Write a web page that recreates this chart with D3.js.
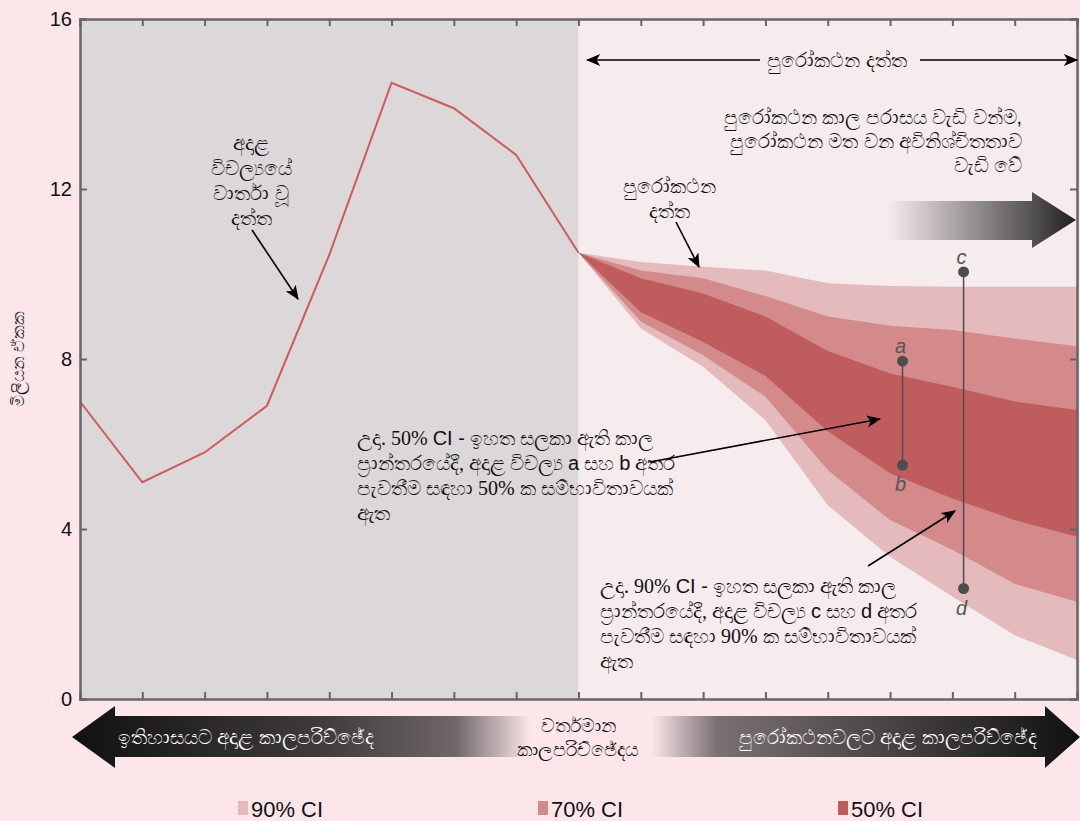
<!DOCTYPE html>
<html>
<head>
<meta charset="utf-8">
<script src="https://cdn.jsdelivr.net/npm/d3@7"></script>
<style>
  body { margin: 0; background: #fce6e9; }
  svg { display: block; font-family: "Liberation Sans", Arial, sans-serif; }
</style>
</head>
<body>
<div id="chart"></div>
<script>
// historical series (period index 0..8)
const histX = [0, 1, 2, 3, 4, 5, 6, 7, 8];
const histY = [7.0, 5.1, 5.8, 6.9, 10.45, 14.5, 13.9, 12.8, 10.5];

// forecast fan (period index 8..16)
const fcX = [8, 9, 10, 11, 12, 13, 14, 15, 16];
const upper90 = [10.5, 10.28, 10.17, 10.08, 9.78, 9.72, 9.7, 9.7, 9.7];
const upper70 = [10.5, 10.08, 9.9, 9.48, 9.0, 8.78, 8.68, 8.48, 8.3];
const upper50 = [10.5, 9.9, 9.54, 9.0, 8.19, 7.66, 7.35, 7.0, 6.8];
const lower50 = [10.5, 9.1, 8.4, 7.6, 6.3, 5.31, 4.72, 4.21, 3.82];
const lower70 = [10.5, 8.88, 8.09, 7.11, 5.39, 4.21, 3.51, 2.71, 2.29];
const lower90 = [10.5, 8.72, 7.82, 6.56, 4.56, 3.35, 2.41, 1.5, 0.92];

// example interval markers
const markerNames = ['a', 'b', 'c', 'd'];
const markerX = [13.2, 13.2, 14.18, 14.18];
const markerY = [7.95, 5.5, 10.05, 2.6];

const yTicks = [0, 4, 8, 12, 16];
const legendLabels = ['90% CI', '70% CI', '50% CI'];
const legendColors = ['#e4babc', '#d4898b', '#bf5d5e'];

const W = 1080, H = 821;
const svg = d3.select('#chart').append('svg').attr('width', W).attr('height', H);

const x = d3.scaleLinear().domain([0, 16]).range([80, 1077]);
const y = d3.scaleLinear().domain([0, 16]).range([699, 19]);

// arrow marker
const defs = svg.append('defs');
defs.append('marker')
  .attr('id', 'head')
  .attr('viewBox', '0 0 12 10')
  .attr('refX', 11).attr('refY', 5)
  .attr('markerWidth', 15).attr('markerHeight', 12)
  .attr('markerUnits', 'userSpaceOnUse')
  .attr('orient', 'auto')
  .append('path').attr('d', 'M0,0 L12,5 L0,10 L3,5 z').attr('fill', '#000');

const gTop = defs.append('linearGradient').attr('id', 'gTop');
gTop.append('stop').attr('offset', '0%').attr('stop-color', '#222').attr('stop-opacity', 0);
gTop.append('stop').attr('offset', '100%').attr('stop-color', '#222').attr('stop-opacity', 1);

const gBot = defs.append('linearGradient').attr('id', 'gBot')
  .attr('gradientUnits', 'userSpaceOnUse').attr('x1', 72).attr('x2', 1080);
[[0, 1], [0.25, 0.8], [0.38, 0.6], [0.455, 0], [0.575, 0], [0.64, 0.55], [0.8, 0.75], [1, 1]]
  .forEach(([o, a]) => gBot.append('stop').attr('offset', o).attr('stop-color', '#111').attr('stop-opacity', a));

// plot backgrounds
svg.append('rect').attr('x', x(0)).attr('y', y(16)).attr('width', x(8) - x(0)).attr('height', y(0) - y(16)).attr('fill', '#dcd7d9');
svg.append('rect').attr('x', x(8)).attr('y', y(16)).attr('width', x(16) - x(8)).attr('height', y(0) - y(16)).attr('fill', '#f6ecee');

// fan bands
const area = (lo, hi) => d3.area().x((d, i) => x(fcX[i])).y0((d, i) => y(lo[i])).y1((d, i) => y(hi[i]))(fcX);
svg.append('path').attr('d', area(lower90, upper90)).attr('fill', legendColors[0]);
svg.append('path').attr('d', area(lower70, upper70)).attr('fill', legendColors[1]);
svg.append('path').attr('d', area(lower50, upper50)).attr('fill', legendColors[2]);

// historical line
svg.append('path')
  .attr('d', d3.line().x((d, i) => x(histX[i])).y((d, i) => y(histY[i]))(histX))
  .attr('fill', 'none').attr('stroke', '#cf5a5a').attr('stroke-width', 2);

// axes
const axisColor = '#666';
const frame = svg.append('g');
frame.append('g').attr('transform', `translate(0,${y(0)})`)
  .call(d3.axisTop(x).tickValues(d3.range(1, 16)).tickSize(7).tickFormat(''));
frame.append('g').attr('transform', `translate(0,${y(16)})`)
  .call(d3.axisBottom(x).tickValues(d3.range(1, 16)).tickSize(7).tickFormat(''));
frame.append('g').attr('transform', `translate(${x(0)},0)`)
  .call(d3.axisRight(y).tickValues(yTicks).tickSize(7).tickFormat(''));
frame.append('g').attr('transform', `translate(${x(16)},0)`)
  .call(d3.axisLeft(y).tickValues(yTicks).tickSize(7).tickFormat(''));
frame.selectAll('path.domain').attr('stroke', axisColor).attr('stroke-width', 2.5);
frame.selectAll('.tick line').attr('stroke', axisColor).attr('stroke-width', 2);

svg.append('g').selectAll('text').data(yTicks).join('text')
  .attr('x', 72).attr('y', d => y(d) + 7)
  .attr('text-anchor', 'end').attr('font-size', 20).attr('fill', '#111')
  .text(d => d);

svg.append('text')
  .attr('transform', `translate(24,${y(8)}) rotate(-90)`)
  .attr('text-anchor', 'middle').attr('font-size', 17).attr('fill', '#222')
  .text('මිලියන ඒකක');

// interval markers
const mk = svg.append('g').attr('fill', '#4d4d4d').attr('stroke', '#4d4d4d');
[[0, 1], [2, 3]].forEach(([i, j]) => {
  mk.append('line').attr('x1', x(markerX[i])).attr('x2', x(markerX[j]))
    .attr('y1', y(markerY[i])).attr('y2', y(markerY[j])).attr('stroke-width', 1.5);
});
mk.selectAll('circle').data(markerNames).join('circle')
  .attr('cx', (d, i) => x(markerX[i])).attr('cy', (d, i) => y(markerY[i])).attr('r', 5.5).attr('stroke', 'none');
mk.selectAll('text').data(markerNames).join('text')
  .attr('x', (d, i) => x(markerX[i]) - 2)
  .attr('y', (d, i) => (i % 2 === 0 ? y(markerY[i]) - 8 : y(markerY[i]) + 26))
  .attr('text-anchor', 'middle').attr('font-size', 20).attr('font-style', 'italic')
  .attr('stroke', 'none').attr('fill', '#555')
  .text(d => d);

// annotations
function lines(xp, yp, arr, anchor, size, lh, fill) {
  const t = svg.append('text').attr('x', xp).attr('y', yp).attr('text-anchor', anchor)
    .attr('font-size', size).attr('fill', fill || '#111');
  arr.forEach((s, k) => t.append('tspan').attr('x', xp).attr('dy', k ? lh : 0).text(s));
  return t;
}
function arrow(x1, y1, x2, y2) {
  svg.append('line').attr('x1', x1).attr('y1', y1).attr('x2', x2).attr('y2', y2)
    .attr('stroke', '#000').attr('stroke-width', 1.6).attr('marker-end', 'url(#head)');
}

lines(251, 150, ['අදාළ', 'විචල්‍යයේ', 'වාර්තා වූ', 'දත්ත'], 'middle', 20, 25);
arrow(252, 230, 298, 299);

arrow(760, 60, 587, 60);
arrow(920, 60, 1077, 60);
svg.append('text').attr('x', 837).attr('y', 67).attr('text-anchor', 'middle').attr('font-size', 20).attr('fill', '#111').text('පුරෝකථන දත්ත');

lines(1022, 124, ['පුරෝකථන කාල පරාසය වැඩි වන්ම,', 'පුරෝකථන මත වන අවිනිශ්චිතතාව', 'වැඩි වේ'], 'end', 19.5, 24);

lines(669, 193, ['පුරෝකථන', 'දත්ත'], 'middle', 20, 25);
arrow(676, 222, 699, 267);

// top gradient arrow
svg.append('path')
  .attr('d', 'M888,201 L1032,201 L1032,192 L1076,220 L1032,248 L1032,240 L888,240 Z')
  .attr('fill', 'url(#gTop)');

// example text blocks (serif for latin, as in source)
function mixed(xp, yp, rows) {
  const t = svg.append('text').attr('x', xp).attr('y', yp).attr('font-size', 20).attr('fill', '#111')
    .attr('font-family', '"Liberation Serif", "Times New Roman", serif');
  rows.forEach((row, k) => {
    row.forEach((seg, m) => {
      const ts = t.append('tspan').text(seg[0]);
      if (m === 0) ts.attr('x', xp).attr('dy', k ? 25 : 0);
      if (seg[1]) ts.attr('font-family', '"Liberation Sans", Arial, sans-serif').attr('font-size', 20);
    });
  });
}
mixed(357, 445, [
  [['උදා. 50% '], ['CI -', 1], [' ඉහත සලකා ඇති කාල']],
  [['ප්‍රාන්තරයේදී, අදාළ විචල්‍ය '], ['a', 1], [' සහ '], ['b', 1], [' අතර']],
  [['පැවතීම සඳහා 50% ක සම්භාවිතාවයක්']],
  [['ඇත']]
]);
arrow(650, 462, 880, 419);

mixed(600, 593, [
  [['උදා. 90% '], ['CI -', 1], [' ඉහත සලකා ඇති කාල']],
  [['ප්‍රාන්තරයේදී, අදාළ විචල්‍ය '], ['c', 1], [' සහ '], ['d', 1], [' අතර']],
  [['පැවතීම සඳහා 90% ක සම්භාවිතාවයක්']],
  [['ඇත']]
]);
arrow(868, 566, 955, 511);

// bottom double gradient arrow
svg.append('path')
  .attr('d', 'M72,737 L115,706 L115,716 L1045,716 L1045,706 L1080,737 L1045,768 L1045,757 L115,757 L115,768 Z')
  .attr('fill', 'url(#gBot)');
svg.append('text').attr('x', 246).attr('y', 744).attr('text-anchor', 'middle').attr('font-size', 19.5).attr('fill', '#fff').text('ඉතිහාසයට අදාළ කාලපරිච්ඡේද');
svg.append('text').attr('x', 888).attr('y', 744).attr('text-anchor', 'middle').attr('font-size', 19.5).attr('fill', '#fff').text('පුරෝකථනවලට අදාළ කාලපරිච්ඡේද');
lines(578, 732, ['වර්තමාන', 'කාලපරිච්ඡේදය'], 'middle', 19, 24);

// legend
const lg = svg.append('g').selectAll('g').data(legendLabels).join('g')
  .attr('transform', (d, i) => `translate(${238 + i * 300},801)`);
lg.append('rect').attr('width', 10).attr('height', 14).attr('fill', (d, i) => legendColors[i]);
lg.append('text').attr('x', 13).attr('y', 16).attr('font-size', 22).attr('fill', '#111')
  .attr('textLength', 72).attr('lengthAdjust', 'spacingAndGlyphs')
  .text(d => d);
</script>
</body>
</html>
